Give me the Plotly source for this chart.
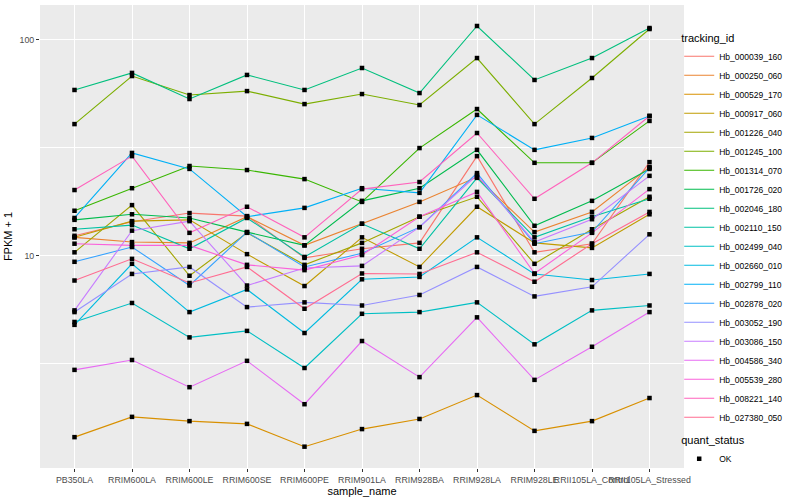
import plotly.graph_objects as go

samples = ["PB350LA", "RRIM600LA", "RRIM600LE", "RRIM600SE", "RRIM600PE", "RRIM901LA",
           "RRIM928BA", "RRIM928LA", "RRIM928LE", "RRII105LA_Control", "RRII105LA_Stressed"]

# FPKM + 1 values, one list per tracking_id
Hb_000039_160 = [12.4, 14.4, 15.8, 15.3, 9.8, 10.8, 11.5, 29.0, 10.4, 11.4, 27.2]
Hb_000250_060 = [12.2, 11.6, 11.5, 15.2, 11.2, 14.1, 17.8, 23.2, 12.9, 16.0, 25.8]
Hb_000529_170 = [1.45, 1.80, 1.72, 1.67, 1.31, 1.58, 1.76, 2.27, 1.55, 1.72, 2.20]
Hb_000917_060 = [12.2, 14.5, 14.7, 10.2, 7.26, 12.2, 8.9, 16.9, 11.5, 10.9, 15.6]
Hb_001226_040 = [10.4, 17.2, 8.1, 12.8, 9.1, 11.5, 15.2, 18.8, 9.2, 13.3, 18.8]
Hb_001245_100 = [40.8, 68.1, 55.6, 58.0, 50.5, 56.2, 50.0, 82.5, 40.8, 66.7, 112.4]
Hb_001314_070 = [16.2, 20.6, 26.1, 25.0, 22.7, 17.8, 31.6, 47.9, 27.0, 27.0, 42.2]
Hb_001726_020 = [14.7, 15.6, 15.0, 12.9, 11.2, 18.0, 20.6, 31.0, 13.8, 18.0, 25.3]
Hb_002046_180 = [58.7, 70.4, 53.3, 68.9, 58.7, 74.2, 56.8, 116.1, 65.3, 82.5, 113.6]
Hb_002110_150 = [13.3, 13.9, 10.8, 15.0, 9.9, 14.1, 10.8, 23.0, 12.2, 15.2, 18.4]
Hb_002499_040 = [4.95, 6.06, 4.2, 4.5, 3.03, 5.4, 5.5, 6.1, 3.9, 5.6, 5.9]
Hb_002660_010 = [4.8, 9.2, 5.5, 7.0, 4.4, 7.8, 8.0, 12.2, 8.26, 7.74, 8.26]
Hb_002799_110 = [15.0, 30.0, 25.3, 15.2, 16.7, 20.6, 19.6, 45.0, 31.0, 35.2, 44.5]
Hb_002878_020 = [9.4, 11.0, 7.3, 12.9, 8.9, 10.3, 13.6, 24.2, 11.4, 12.9, 25.6]
Hb_003052_190 = [5.5, 8.26, 8.9, 5.8, 6.1, 5.9, 6.6, 8.9, 6.5, 7.2, 12.6]
Hb_003086_150 = [5.6, 13.1, 14.5, 7.3, 8.8, 9.0, 13.6, 23.7, 11.6, 14.8, 23.5]
Hb_004586_340 = [2.97, 3.3, 2.47, 3.27, 2.06, 4.04, 2.75, 5.2, 2.67, 3.8, 5.5]
Hb_005539_280 = [11.4, 11.2, 11.2, 9.1, 8.6, 10.1, 15.2, 19.8, 8.3, 12.8, 20.4]
Hb_008221_140 = [20.2, 29.0, 12.8, 16.9, 12.2, 20.4, 22.0, 37.1, 18.4, 27.0, 44.5]
Hb_027380_050 = [7.7, 9.7, 7.5, 8.9, 5.7, 8.3, 8.26, 10.4, 7.6, 11.4, 16.0]

tracking_ids = ["Hb_000039_160", "Hb_000250_060", "Hb_000529_170", "Hb_000917_060", "Hb_001226_040",
                "Hb_001245_100", "Hb_001314_070", "Hb_001726_020", "Hb_002046_180", "Hb_002110_150",
                "Hb_002499_040", "Hb_002660_010", "Hb_002799_110", "Hb_002878_020", "Hb_003052_190",
                "Hb_003086_150", "Hb_004586_340", "Hb_005539_280", "Hb_008221_140", "Hb_027380_050"]
series_values = [Hb_000039_160, Hb_000250_060, Hb_000529_170, Hb_000917_060, Hb_001226_040,
                 Hb_001245_100, Hb_001314_070, Hb_001726_020, Hb_002046_180, Hb_002110_150,
                 Hb_002499_040, Hb_002660_010, Hb_002799_110, Hb_002878_020, Hb_003052_190,
                 Hb_003086_150, Hb_004586_340, Hb_005539_280, Hb_008221_140, Hb_027380_050]
colors = ["#F8766D", "#EA8331", "#D89000", "#C09B00", "#A3A500", "#7CAE00", "#39B600", "#00BB4E",
          "#00BF7D", "#00C1A3", "#00BFC4", "#00BAE0", "#00B0F6", "#35A2FF", "#9590FF", "#C77CFF",
          "#E76BF3", "#FA62DB", "#FF62BC", "#FF6C91"]
quant_status = "OK"

FONT = "Liberation Sans, Arial, sans-serif"

fig = go.Figure()
for name, vals, col in zip(tracking_ids, series_values, colors):
    fig.add_trace(go.Scatter(x=samples, y=vals, mode="lines", name=name,
                             line=dict(color=col, width=1.1), legend="legend"))

all_x = [s for _ in series_values for s in samples]
all_y = [v for vals in series_values for v in vals]
fig.add_trace(go.Scatter(x=all_x, y=all_y, mode="markers", name=quant_status,
                         marker=dict(symbol="square", size=4.5, color="black"),
                         legend="legend2"))

fig.update_layout(
    width=800, height=500,
    margin=dict(l=40, r=116, t=5, b=32, autoexpand=False),
    paper_bgcolor="white", plot_bgcolor="#EBEBEB",
    font=dict(family=FONT, color="black"),
    showlegend=True,
    legend=dict(title=dict(text="tracking_id", font=dict(size=11)),
                font=dict(size=8.5), xref="container", yref="container",
                x=0.849, y=0.945, xanchor="left", yanchor="top", maxheight=470,
                bgcolor="rgba(0,0,0,0)", tracegroupgap=0, itemwidth=30),
    legend2=dict(title=dict(text="quant_status", font=dict(size=11)),
                 font=dict(size=8.5), xref="container", yref="container",
                 x=0.849, y=0.14, xanchor="left", yanchor="top", maxheight=100,
                 bgcolor="rgba(0,0,0,0)", itemwidth=30),
    xaxis=dict(type="category", categoryorder="array", categoryarray=samples,
               range=[-0.6, 10.6], showgrid=True, gridcolor="white", gridwidth=1.4,
               zeroline=False, ticks="outside", ticklen=3, tickcolor="#333333",
               tickangle=0, automargin=False, tickfont=dict(size=8.8, color="#4D4D4D"),
               title=dict(text="sample_name", font=dict(size=11), standoff=2)),
    yaxis=dict(type="log", range=[0.0185, 2.162], tickvals=[10, 100], ticktext=["10", "100"],
               showgrid=True, gridcolor="white", gridwidth=1.4, zeroline=False,
               ticks="outside", ticklen=3, tickcolor="#333333", automargin=False,
               tickfont=dict(size=8.8, color="#4D4D4D"),
               minor=dict(tickvals=[3.1623, 31.623], showgrid=True, gridcolor="white",
                          gridwidth=0.6, ticks=""),
               title=dict(text="FPKM + 1", font=dict(size=11), standoff=4)),
)

fig.write_html("out.html", config={"displayModeBar": False},
               post_script="document.body.style.margin='0px';document.body.style.overflow='hidden';")
